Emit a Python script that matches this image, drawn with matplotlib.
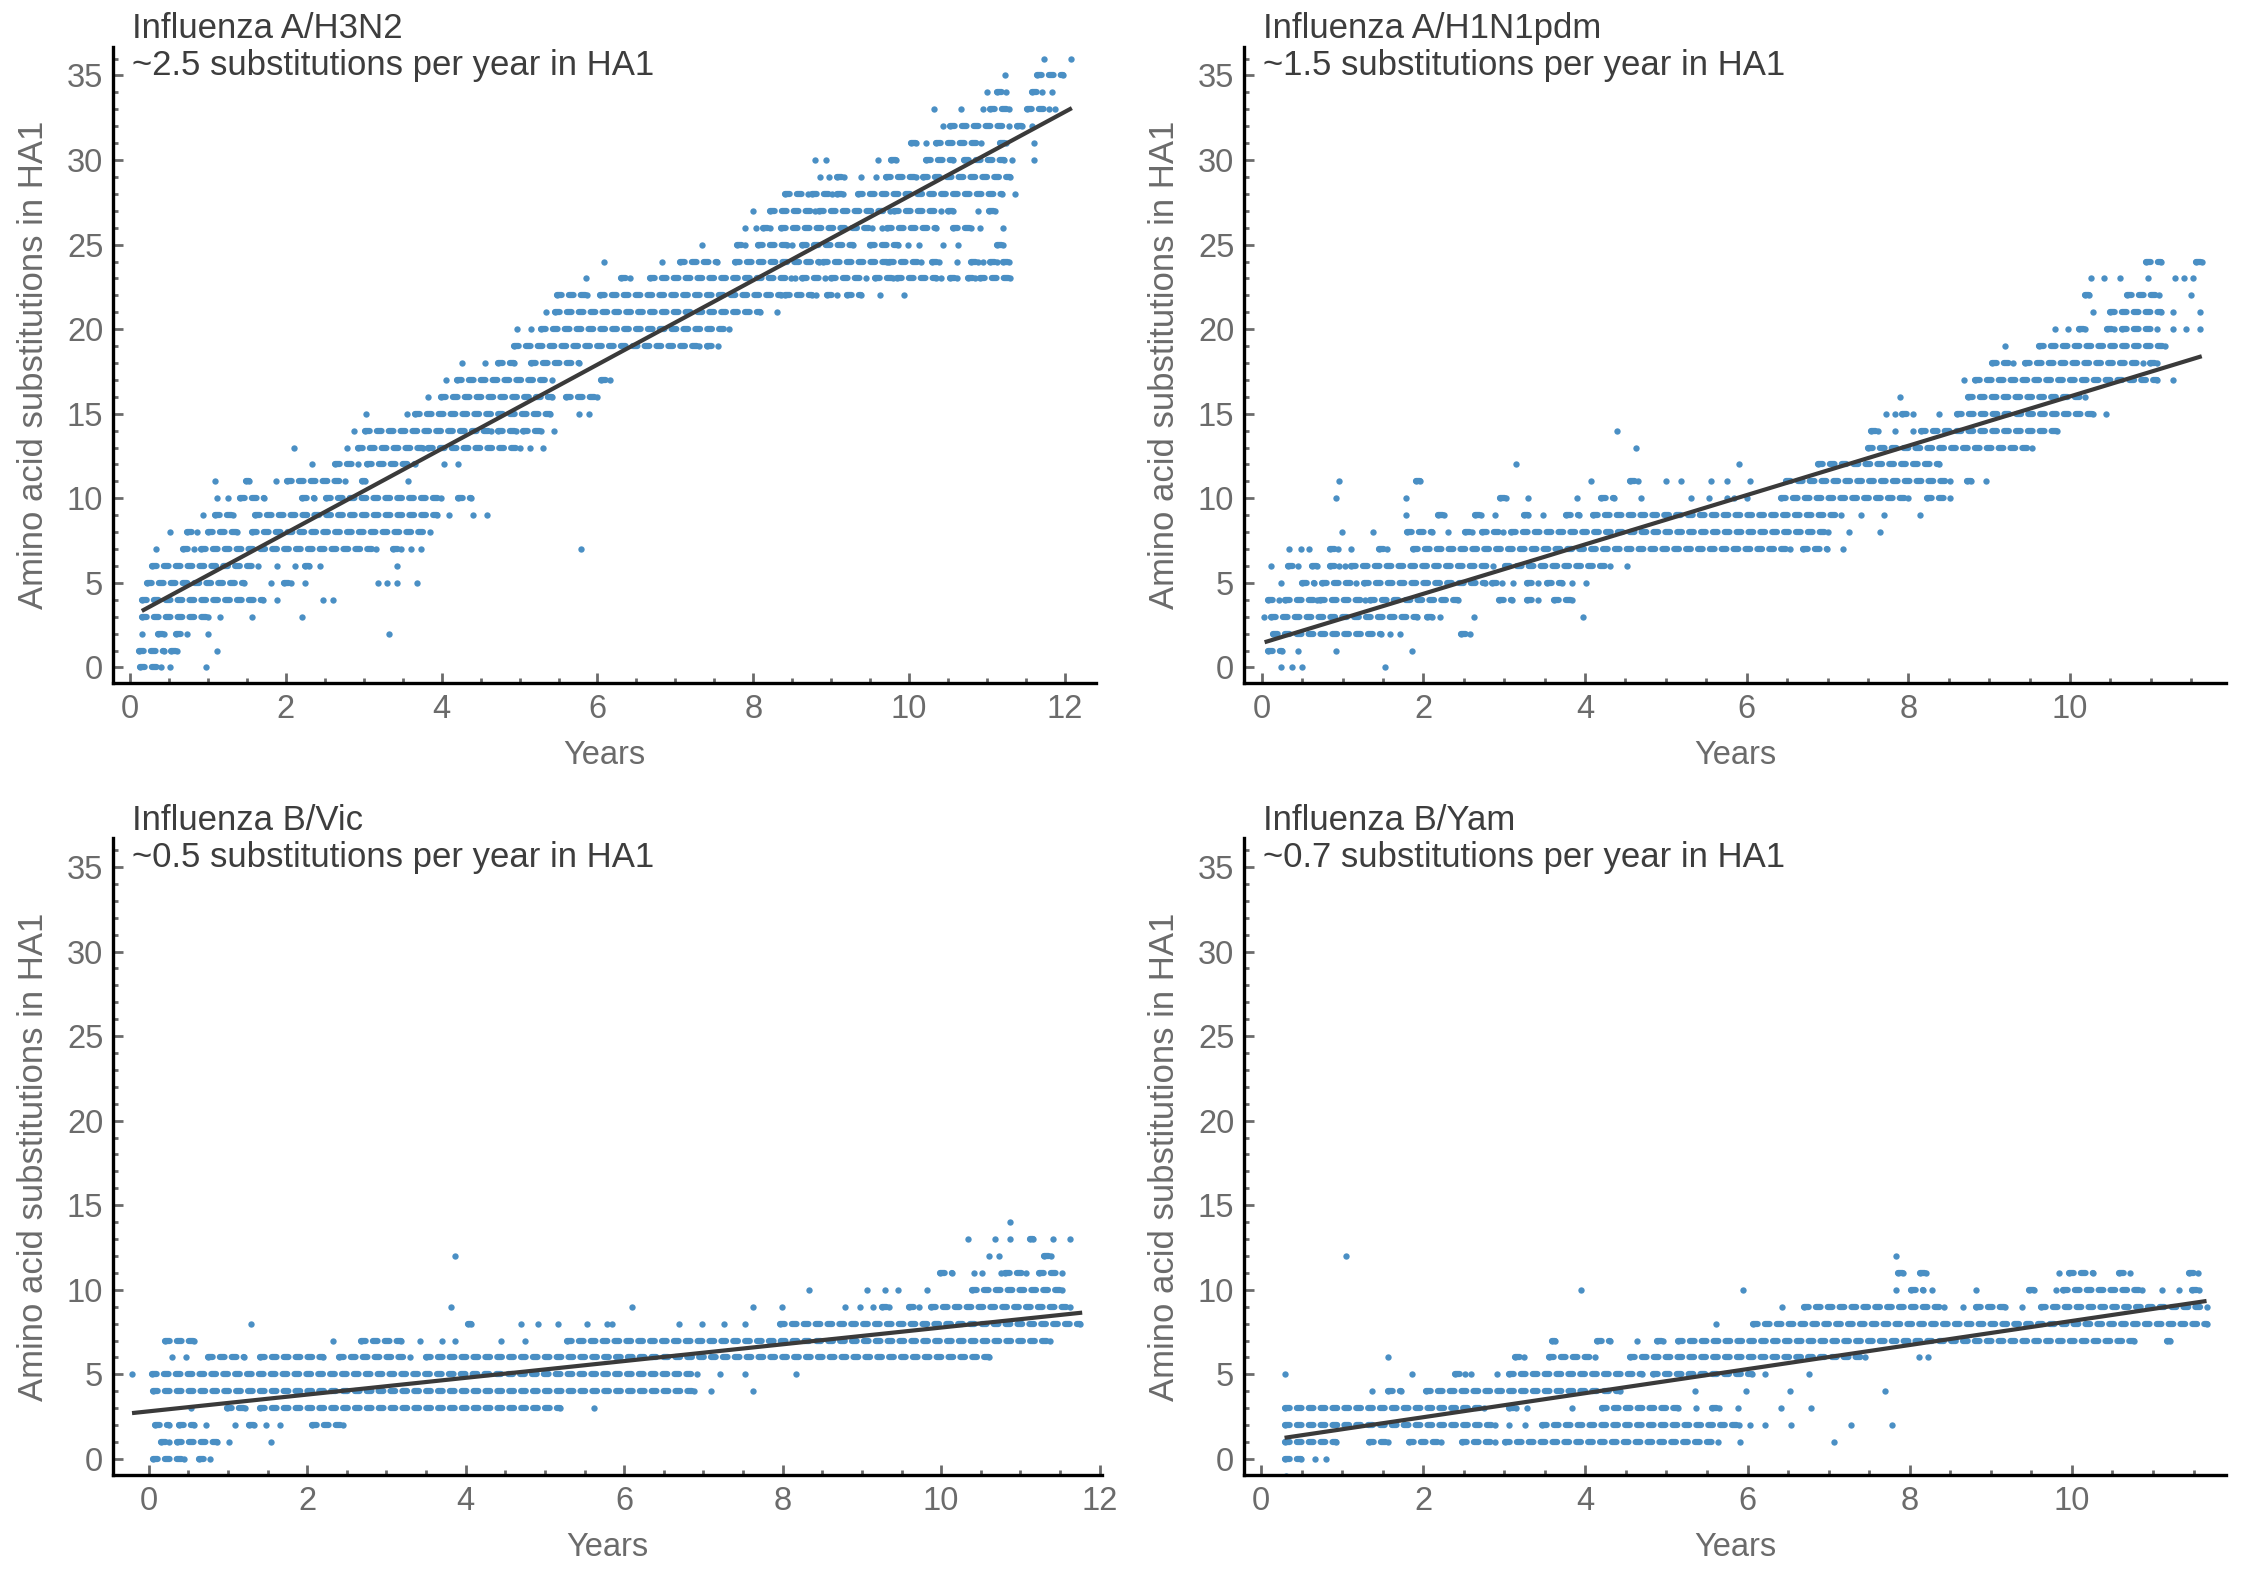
import matplotlib
matplotlib.use("Agg")
import matplotlib.pyplot as plt
from matplotlib.collections import LineCollection
from matplotlib.ticker import MultipleLocator

plt.rcParams['font.family'] = ['Liberation Sans', 'DejaVu Sans']

# substitutions (y) -> dots; a tuple is a run of
# touching dots from x0 to x1 (years), a number is a single dot
h3n2 = {
    0: [(0.13, 0.40), 0.51, 0.97],
    1: [(0.12, 0.43), (0.53, 0.60), 1.12],
    2: [0.15, (0.36, 0.43), (0.59, 0.73), 1.0, 3.32],
    3: [(0.15, 1.0), 1.16, 1.57, 2.21],
    4: [(0.15, 1.7), 1.88, 2.47, 2.61],
    5: [(0.22, 1.46), 1.81, (1.97, 2.06), 2.24, 3.18, 3.30, 3.43, 3.68],
    6: [(0.28, 1.64), 1.88, 2.12, (2.24, 2.29), 2.44, 3.42],
    7: [0.33, (0.68, 0.82), (0.91, 3.16), (3.37, 3.48), 3.6, 3.74, 5.79],
    8: [0.51, (0.73, 0.86), (1.0, 1.37), (1.57, 3.85)],
    9: [0.93, (1.09, 1.32), (1.6, 3.94), 4.1, 4.4, 4.58],
    10: [1.11, 1.26, (1.41, 1.72), (2.21, 2.36), (2.52, 3.99), (4.21, 4.37)],
    11: [1.09, (1.49, 1.53), 1.87, (2.01, 2.76), (2.98, 3.02), 3.57],
    12: [2.33, (2.63, 2.93), (3.04, 3.66), 4.03, 4.21],
    13: [2.10, 2.79, (2.93, 3.76), (3.83, 5.0), 5.13, 5.30],
    14: [2.88, (3.02, 4.63), (4.72, 4.95), (5.04, 5.27), 5.44],
    15: [3.03, 3.55, (3.66, 5.39), 5.76, 5.89],
    16: [3.82, (3.99, 5.41), (5.59, 6.0)],
    17: [4.05, (4.19, 5.41), (6.05, 6.16)],
    18: [4.26, 4.55, (4.72, 4.93), (5.15, 5.76)],
    19: [(4.93, 7.30), (7.40, 7.55)],
    20: [4.97, 5.15, (5.27, 7.69)],
    21: [5.34, (5.45, 8.09), 8.31],
    22: [(5.48, 5.87), (6.03, 8.35), (8.41, 8.76), 8.81, (8.95, 9.08), (9.20, 9.38),
         9.63, 9.93],
    23: [5.85, (6.30, 6.42), (6.68, 8.48), 8.54, (8.62, 8.92), (9.0, 9.45),
         (9.56, 9.79), (9.84, 10.35), 10.41, (10.52, 10.61), (10.76, 10.85), (10.91, 11.30)],
    24: [6.08, 6.83, (7.06, 7.53), (7.77, 8.85), (8.89, 9.72), (9.74, 10.15),
         (10.29, 10.39), 10.61, (10.80, 10.89), 10.95, (11.04, 11.13), (11.21, 11.28)],
    25: [7.34, (7.79, 7.90), (8.06, 8.43), 8.50, (8.62, 9.28), (9.50, 9.86), 9.99,
         10.13, 10.44, 10.63, (11.13, 11.21)],
    26: [7.89, 8.03, (8.13, 8.22), (8.35, 9.53), 9.65, (9.72, 10.35), (10.57, 10.80),
         10.91, 11.20],
    27: [8.0, (8.22, 8.79), (8.85, 9.75), (9.81, 10.41), (10.50, 10.56), 10.89,
         (11.03, 11.10)],
    28: [(8.41, 8.70), (8.76, 9.01), (9.07, 9.15), (9.35, 11.19), 11.36],
    29: [8.86, 8.97, (9.07, 9.16), 9.38, 9.57, (9.70, 10.09), (10.18, 11.30)],
    30: [8.79, 8.94, 9.60, (9.77, 9.83), (10.22, 10.56), (10.71, 11.22), 11.32, 11.60],
    31: [(10.02, 10.09), 10.22, (10.35, 10.93), (11.17, 11.24), 11.60],
    32: [10.44, (10.53, 11.28), (11.38, 11.45), 11.58],
    33: [10.32, 10.67, 10.95, (11.04, 11.28), (11.52, 11.80), 11.87],
    34: [11.00, (11.13, 11.24), (11.58, 11.71), 11.83],
    35: [11.23, (11.64, 11.97)],
    36: [11.73, 12.08],
}

h1n1 = {
    0: [0.24, 0.38, 0.50, 1.53],
    1: [(0.08, 0.25), 0.45, 0.92, 1.86],
    2: [(0.14, 1.48), 1.59, 1.71, (2.47, 2.58)],
    3: [0.03, (0.12, 1.92), (2.04, 2.10), 2.20, 2.63, 3.98],
    4: [(0.08, 0.21), (0.29, 0.68), (0.72, 1.28), (1.34, 2.43), (2.93, 3.10),
        (3.28, 3.42), (3.61, 3.84)],
    5: [0.24, (0.50, 0.64), (0.74, 1.17), (1.27, 2.76), (2.85, 2.97), 3.11,
        (3.28, 3.42), (3.53, 3.71), 3.84, 4.01],
    6: [0.12, (0.33, 0.45), (0.62, 0.68), (0.85, 0.95), 1.03, (1.11, 2.86),
        (3.01, 4.31), 4.52],
    7: [0.34, 0.48, 0.58, (0.85, 0.94), 1.11, (1.45, 1.55), (1.87, 6.54),
        (6.70, 6.99), 7.19],
    8: [0.99, 1.38, (1.80, 2.11), 2.31, (2.51, 2.60), (2.73, 2.99), (3.08, 7.01),
        7.26, 7.65],
    9: [1.78, (2.18, 2.26), (2.64, 2.71), 2.89, (3.24, 3.29), 3.48, (3.76, 3.92),
        (4.10, 7.17), 7.41, 7.70, 8.14],
    10: [0.92, 1.78, (2.95, 3.02), 3.29, 3.90, (4.20, 4.36), 4.69, 5.31, 5.53,
         5.76, 5.84, 6.0, (6.42, 7.99), (8.23, 8.52)],
    11: [0.96, (1.91, 1.96), 4.07, (4.56, 4.65), 5.0, 5.19, 5.56, 5.76, 6.04,
         (6.48, 8.52), (8.72, 8.78), 8.96],
    12: [3.15, 5.91, (6.88, 8.38)],
    13: [4.63, (7.50, 9.53)],
    14: [4.39, (7.54, 7.63), 7.83, 8.06, (8.16, 9.84)],
    15: [7.72, 7.84, (7.92, 8.06), 8.38, (8.60, 10.28), 10.44],
    16: [7.90, (8.74, 10.19)],
    17: [8.69, (8.83, 11.08), 11.28],
    18: [(9.03, 9.29), (9.44, 10.90), (10.99, 11.08)],
    19: [9.20, (9.62, 11.17)],
    20: [9.82, 9.97, (10.11, 10.19), (10.46, 10.55), (10.64, 11.08), 11.27, 11.43, 11.61],
    21: [10.28, (10.50, 11.12), 11.27, 11.61],
    22: [(10.19, 10.24), (10.71, 11.10), 11.50],
    23: [10.26, 10.42, 10.62, 10.96, 11.30, 11.41, 11.52],
    24: [(10.94, 11.12), (11.56, 11.63)],
}

bvic = {
    0: [(0.05, 0.45), (0.63, 0.77)],
    1: [(0.15, 0.26), (0.36, 0.86), 1.02, 1.54],
    2: [(0.08, 0.26), (0.38, 0.57), 0.72, 1.09, (1.27, 1.33), 1.48, 1.66, (2.06, 2.45)],
    3: [0.54, (0.99, 1.22), (1.40, 5.19), 5.62],
    4: [(0.05, 6.88), 7.10, 7.62],
    5: [-0.21, (0.04, 6.92), 7.21, 7.53, 8.17],
    6: [0.29, 0.47, (0.75, 1.2), (1.4, 2.2), (2.4, 3.3), (3.5, 10.61)],
    7: [(0.20, 0.57), 2.33, (2.68, 3.18), 3.43, 3.70, 3.87, 4.44, 4.75, (5.28, 11.37)],
    8: [1.29, (4.03, 4.07), 4.70, 4.91, 5.16, 5.53, 5.78, 5.85, 6.69, 6.98, 7.26,
        7.53, (7.97, 11.75)],
    9: [3.82, 6.10, 7.62, 7.99, 8.79, 8.97, 9.14, (9.26, 9.34), (9.59, 9.72), (9.87, 11.62)],
    10: [8.33, 9.06, 9.29, 9.46, 9.82, (10.39, 11.53)],
    11: [(9.98, 10.14), 10.41, 10.52, 10.75, (10.81, 11.07), (11.23, 11.53)],
    12: [3.87, 10.61, 10.73, (11.30, 11.39)],
    13: [10.34, 10.68, 10.87, (11.12, 11.16), 11.41, 11.62],
    14: [10.87],
}

byam = {
    -1: [0.31],
    0: [(0.29, 0.49), 0.66, 0.80],
    1: [(0.29, 0.93), (1.33, 1.57), (1.82, 2.22), (2.48, 2.88), (3.01, 5.63), 5.91, 7.07],
    2: [(0.29, 2.88), 3.06, 3.25, (3.46, 5.90), 6.03, 6.21, 6.53, 7.27, 7.78],
    3: [(0.29, 2.75), (3.06, 3.15), 3.28, 3.84, (4.21, 5.14), 5.36, (5.56, 5.65),
        5.88, 6.41, 6.78],
    4: [1.37, (1.57, 1.73), (2.04, 4.43), 5.35, 5.98, 6.52, 7.70],
    5: [0.29, 1.86, (2.39, 2.51), 2.59, 2.91, (3.06, 4.70), (4.83, 6.05), 6.21, 6.76],
    6: [1.57, (3.13, 3.24), (3.55, 4.12), (4.55, 7.45), 8.11, 8.23],
    7: [(3.59, 3.63), (4.14, 4.30), 4.64, (4.88, 4.96), (5.14, 10.77), (11.17, 11.21)],
    8: [5.61, (6.07, 11.66)],
    9: [6.43, (6.69, 8.42), 8.66, (8.82, 9.18), 9.38, (9.62, 11.66)],
    10: [3.95, 5.94, 7.83, (8.02, 8.16), 8.27, 8.82, (9.47, 9.53), 9.80,
         (9.89, 10.86), 11.11, 11.32, (11.48, 11.57)],
    11: [(7.86, 7.92), (8.13, 8.20), 9.84, (9.97, 10.26), (10.58, 10.71), (11.44, 11.55)],
    12: [1.05, 7.83],
}

# regression line end points (x0, y0, x1, y1)
fit_h3n2 = (0.15, 3.34, 12.09, 33.07)
fit_h1n1 = (0.035, 1.49, 11.63, 18.40)
fit_bvic = (-0.21, 2.71, 11.78, 8.65)
fit_byam = (0.29, 1.25, 11.66, 9.34)

names = ['Influenza A/H3N2', 'Influenza A/H1N1pdm', 'Influenza B/Vic', 'Influenza B/Yam']
rates = ['~2.5', '~1.5', '~0.5', '~0.7']
xlims = [(-0.22, 12.4), (-0.22, 11.93), (-0.45, 12.03), (-0.21, 11.9)]
xmaxtick = [12, 10, 12, 10]

W, H = 2243, 1583
dot = '#4a8fc4'
grey = '#6b6b6b'

fig = plt.figure(figsize=(W / 100, H / 100), dpi=100)

# axes boxes in pixels: left, right, top, bottom
boxes = [(113, 1096, 46.7, 683), (1244, 2226, 46.7, 683),
         (113, 1102, 838.2, 1474.5), (1244, 2226, 838.2, 1474.5)]

panels = [h3n2, h1n1, bvic, byam]
fits = [fit_h3n2, fit_h1n1, fit_bvic, fit_byam]

for k in range(4):
    l, r, t, b = boxes[k]
    ax = fig.add_axes([l / W, 1 - b / H, (r - l) / W, (b - t) / H])
    data = panels[k]

    segs = []
    xs, ys = [], []
    for y, items in data.items():
        for it in items:
            if isinstance(it, tuple):
                segs.append([(it[0], y), (it[1], y)])
                xs += [it[0], it[1]]
                ys += [y, y]
            else:
                xs.append(it)
                ys.append(y)
    # dense runs: chain of round dashes so they read as packed dots
    lc = LineCollection(segs, linewidths=4.5, colors=dot,
                        linestyles=[(0, (0.75, 1.15))], zorder=2)
    lc.set_capstyle('round')
    ax.add_collection(lc)
    ax.scatter(xs, ys, s=21, color=dot, linewidths=0, zorder=2)

    x0, y0, x1, y1 = fits[k]
    ax.plot([x0, x1], [y0, y1], color='#3a3a3a', lw=3.0, zorder=3,
            solid_capstyle='butt')

    ax.set_xlim(*xlims[k])
    ax.set_ylim(-0.92, 36.7)
    ax.set_xticks(range(0, xmaxtick[k] + 1, 2))
    ax.set_yticks(range(0, 36, 5))
    ax.xaxis.set_minor_locator(MultipleLocator(0.5))
    ax.yaxis.set_minor_locator(MultipleLocator(1))

    for s in ['top', 'right']:
        ax.spines[s].set_visible(False)
    for s in ['left', 'bottom']:
        ax.spines[s].set_linewidth(2.4)
        ax.spines[s].set_color('black')

    ax.tick_params(which='major', direction='in', length=7.5, width=2.0,
                   color=grey, labelsize=23.5, labelcolor=grey)
    ax.tick_params(which='minor', direction='in', length=3.8, width=2.0, color=grey)
    ax.tick_params(axis='x', which='major', pad=8)
    ax.tick_params(axis='y', which='major', pad=7)

    ax.set_xlabel('Years', fontsize=23.5, color=grey)
    ax.set_ylabel('Amino acid substitutions in HA1', fontsize=25, color=grey)
    ax.xaxis.set_label_coords(0.5, -0.09)
    ax.yaxis.set_label_coords(-0.064, 0.5)

    ax.text(0.019, 1.028, names[k], transform=ax.transAxes, fontsize=25,
            color='#3d3d3d', ha='left', va='center')
    ax.text(0.019, 0.970, rates[k] + ' substitutions per year in HA1',
            transform=ax.transAxes, fontsize=25, color='#3d3d3d',
            ha='left', va='center')

fig.savefig('out.png', dpi=100)
